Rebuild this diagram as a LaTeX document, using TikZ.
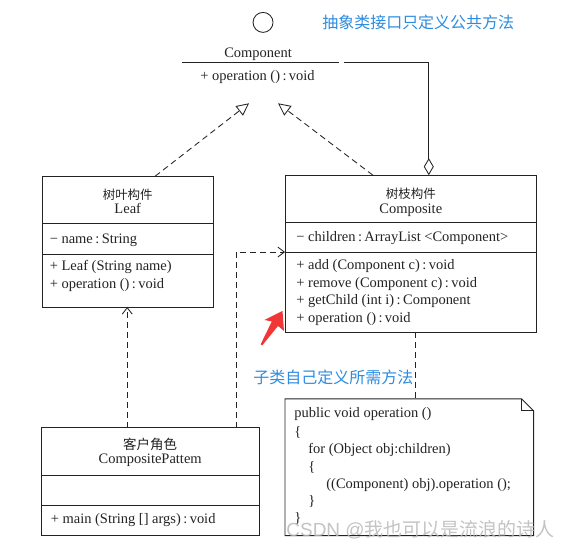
\documentclass[tikz,border=0pt]{standalone}
\usepackage{fontspec}
\setmainfont{Liberation Serif}
\newfontfamily\cjk{Noto Sans CJK SC}
\newfontfamily\wmsans{Liberation Sans}
\usetikzlibrary{arrows.meta}
\definecolor{noteblue}{RGB}{45,140,225}
\definecolor{arrowred}{RGB}{240,55,55}
\definecolor{ink}{RGB}{35,35,35}
\newcommand\umlf{\fontsize{14.5}{17.7}\selectfont}
\newcommand\cnf{\cjk\fontsize{12.5}{14}\selectfont}
\begin{document}
\begin{tikzpicture}[x=1pt,y=-1pt,
  every path/.style={line width=0.85pt, draw=ink},
  box/.style={draw=ink, line width=0.85pt, anchor=north west, inner sep=0pt, outer sep=0pt},
  txt/.style={anchor=base west, inner sep=0pt, font=\umlf, text=ink},
  ctxt/.style={anchor=base, inner sep=0pt, font=\umlf, text=ink},
  cn/.style={anchor=base, inner sep=0pt, font=\cnf, text=ink},
  dline/.style={dash pattern=on 6pt off 4pt},
  lbl/.style={anchor=west, inner sep=0pt, font=\cjk\fontsize{16}{18}\selectfont, text=noteblue},
  realize/.style={-{Triangle[open,length=12.5pt,width=12pt]}},
  dep/.style={-{Straight Barb[length=6.5pt,width=10pt]}}
]
\useasboundingbox (0,0) rectangle (573,549);
\fill[white, draw=none] (0,0) rectangle (573,549);

% ---- Component (interface) ----
\node[circle, draw=ink, line width=0.85pt, minimum size=20pt, inner sep=0pt] (iface) at (263,22) {};
\node[ctxt] (cname) at (258,57) {Component};
\coordinate (sepL) at (182,62);
\coordinate (sepR) at (339,62);
\draw (sepL) -- (sepR);
\node[ctxt] (cop) at (257.5,80) {+ operation ()\,:\,void};
\coordinate (iL) at (249,103);
\coordinate (iR) at (278,103);
\coordinate (aggS) at (344,62);

% ---- Leaf ----
\node[box, minimum width=171pt, minimum height=131pt] (leaf) at (42,176) {};
\draw (42,223) -- (213,223);
\draw (42,254) -- (213,254);
\node[cn] (leafcn) at (127.5,199) {树叶构件};
\node[ctxt] (leafname) at (127.5,213) {Leaf};
\node[txt] (leafa) at (49,243) {− name\,:\,String};
\node[txt] (leafm1) at (49,270) {+ Leaf (String name)};
\node[txt] (leafm2) at (49,288) {+ operation ()\,:\,void};
\coordinate (leafT) at (155,176);
\coordinate (leafB) at (127,307);

% ---- Composite ----
\node[box, minimum width=252pt, minimum height=157pt] (comp) at (285,175) {};
\draw (285,222) -- (537,222);
\draw (285,252) -- (537,252);
\node[cn] (compcn) at (411,198) {树枝构件};
\node[ctxt] (compname) at (411,213) {Composite};
\node[txt] (compa) at (296,241) {− children\,:\,ArrayList <Component>};
\node[txt] (compm1) at (296,269.5) {+ add (Component c)\,:\,void};
\node[txt] (compm2) at (296,287.2) {+ remove (Component c)\,:\,void};
\node[txt] (compm3) at (296,304.9) {+ getChild (int i)\,:\,Component};
\node[txt] (compm4) at (296,322.6) {+ operation ()\,:\,void};
\coordinate (compT) at (373,175);
\coordinate (aggD) at (429,175);
\coordinate (compL) at (285,252);
\coordinate (compB) at (416,332);

% ---- Client ----
\node[box, minimum width=218pt, minimum height=108pt] (client) at (41,428) {};
\draw (41,476) -- (259,476);
\draw (41,506) -- (259,506);
\node[anchor=base, inner sep=0pt, font=\cjk\fontsize{13.5}{15}\selectfont, text=ink] (clicn) at (150,449.5) {客户角色};
\node[ctxt] (cliname) at (150,464) {CompositePattem};
\node[txt] (clim) at (50,524) {+ main (String [] args)\,:\,void};
\coordinate (cliA) at (127,428);
\coordinate (cliB) at (236,428);

% ---- Note ----
\node[box, draw=none, minimum width=249pt, minimum height=137pt] (note) at (285,399) {};
\draw (285,399) -- (522,399) -- (534,411) -- (534,536) -- (285,536) -- cycle;
\draw (522,399) -- (522,411) -- (534,411);
\coordinate (noteT) at (416,399);
\node[txt] (n1) at (294,418) {public void operation ()};
\node[txt] (n2) at (294,436.5) {\{};
\node[txt] (n3) at (308,454) {for (Object obj:children)};
\node[txt] (n4) at (308,472) {\{};
\node[txt] (n5) at (326,489) {((Component) obj).operation ();};
\node[txt] (n6) at (308,506) {\}};
\node[txt] (n7) at (294,523) {\}};

% ---- Connectors ----
\draw[dline, realize] (leafT) -- (iL);
\draw[dline, realize] (compT) -- (iR);
\draw[-{Diamond[open,length=17pt,width=10pt]}] (aggS) -| (aggD);
\draw[dline, dep] (cliA) -- (leafB);
\draw[dline, dep] (cliB) |- (compL);
\draw[dline] (compB) -- (noteT);

% ---- Annotations ----
\node[lbl] (lab1) at (322,22) {抽象类接口只定义公共方法};
\node[lbl] (lab2) at (253,378) {子类自己定义所需方法};
\fill[arrowred, draw=none] (282.5,311) -- (284,331) -- (278,326) -- (262.3,345.4) -- (260.6,344.4) -- (271.8,321.5) -- (264.5,320) -- cycle;

% ---- Watermark ----
\node[anchor=base west, inner sep=0pt, text=gray!55, opacity=0.85, font=\fontsize{19}{21}\selectfont] (wm) at (286,537) {\wmsans CSDN @\cjk 我也可以是流浪的诗人};
\end{tikzpicture}
\end{document}
